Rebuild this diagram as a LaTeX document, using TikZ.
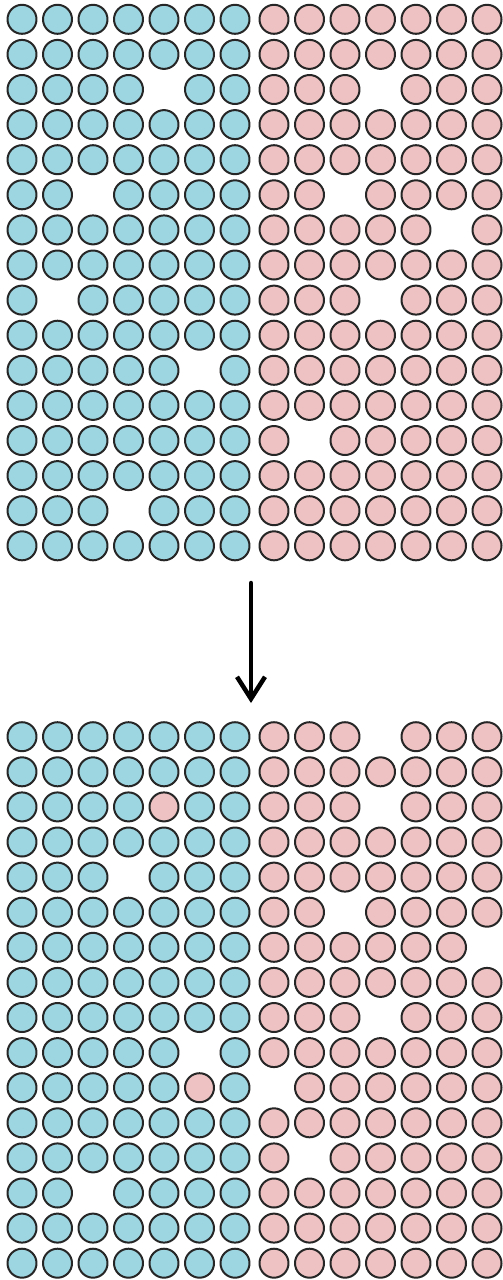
\documentclass[tikz,border=0pt]{standalone}
\usetikzlibrary{arrows.meta}
\definecolor{cellblue}{HTML}{9DD5E0}
\definecolor{cellpink}{HTML}{EEC2C2}
\tikzset{
  dot/.style={circle, draw=black!85, line width=2pt, minimum size=29pt, inner sep=0pt},
  dot b/.style={dot, fill=cellblue},
  dot p/.style={dot, fill=cellpink},
  flow/.style={line width=4.5pt, -{Straight Barb[length=22pt, width=28pt]}}
}
\begin{document}
\begin{tikzpicture}[x=1pt, y=-1pt, line join=round, line cap=round]
\useasboundingbox (0,0) rectangle (503,1280);
\foreach \row [count=\r] in {
  {b,b,b,b,b,b,b,p,p,p,p,p,p,p},
  {b,b,b,b,b,b,b,p,p,p,p,p,p,p},
  {b,b,b,b,o,b,b,p,p,p,o,p,p,p},
  {b,b,b,b,b,b,b,p,p,p,p,p,p,p},
  {b,b,b,b,b,b,b,p,p,p,p,p,p,p},
  {b,b,o,b,b,b,b,p,p,o,p,p,p,p},
  {b,b,b,b,b,b,b,p,p,p,p,p,o,p},
  {b,b,b,b,b,b,b,p,p,p,p,p,p,p},
  {b,o,b,b,b,b,b,p,p,p,o,p,p,p},
  {b,b,b,b,b,b,b,p,p,p,p,p,p,p},
  {b,b,b,b,b,o,b,p,p,p,p,p,p,p},
  {b,b,b,b,b,b,b,p,p,p,p,p,p,p},
  {b,b,b,b,b,b,b,p,o,p,p,p,p,p},
  {b,b,b,b,b,b,b,p,p,p,p,p,p,p},
  {b,b,b,o,b,b,b,p,p,p,p,p,p,p},
  {b,b,b,b,b,b,b,p,p,p,p,p,p,p}} {
  \foreach \k [count=\c] in \row {
    \if\k o\else
      \node[dot \k] (before-\r-\c) at ({22+(\c-1)*35.5+(\c>7)*3.5}, {19.3+(\r-1)*35.1}) {};
    \fi
  }
}
\foreach \row [count=\r] in {
  {b,b,b,b,b,b,b,p,p,p,o,p,p,p},
  {b,b,b,b,b,b,b,p,p,p,p,p,p,p},
  {b,b,b,b,p,b,b,p,p,p,o,p,p,p},
  {b,b,b,b,b,b,b,p,p,p,p,p,p,p},
  {b,b,b,o,b,b,b,p,p,p,p,p,p,p},
  {b,b,b,b,b,b,b,p,p,o,p,p,p,p},
  {b,b,b,b,b,b,b,p,p,p,p,p,p,o},
  {b,b,b,b,b,b,b,p,p,p,p,p,p,p},
  {b,b,b,b,b,b,b,p,p,p,o,p,p,p},
  {b,b,b,b,b,o,b,p,p,p,p,p,p,p},
  {b,b,b,b,b,p,b,o,p,p,p,p,p,p},
  {b,b,b,b,b,b,b,p,p,p,p,p,p,p},
  {b,b,b,b,b,b,b,p,o,p,p,p,p,p},
  {b,b,o,b,b,b,b,p,p,p,p,p,p,p},
  {b,b,b,b,b,b,b,p,p,p,p,p,p,p},
  {b,b,b,b,b,b,b,p,p,p,p,p,p,p}} {
  \foreach \k [count=\c] in \row {
    \if\k o\else
      \node[dot \k] (after-\r-\c) at ({22+(\c-1)*35.5+(\c>7)*3.5}, {736.7+(\r-1)*35.1}) {};
    \fi
  }
}
\coordinate (step-from) at (251,583);
\coordinate (step-to) at (251,703);
\draw[flow] (step-from) -- (step-to);
\end{tikzpicture}
\end{document}
